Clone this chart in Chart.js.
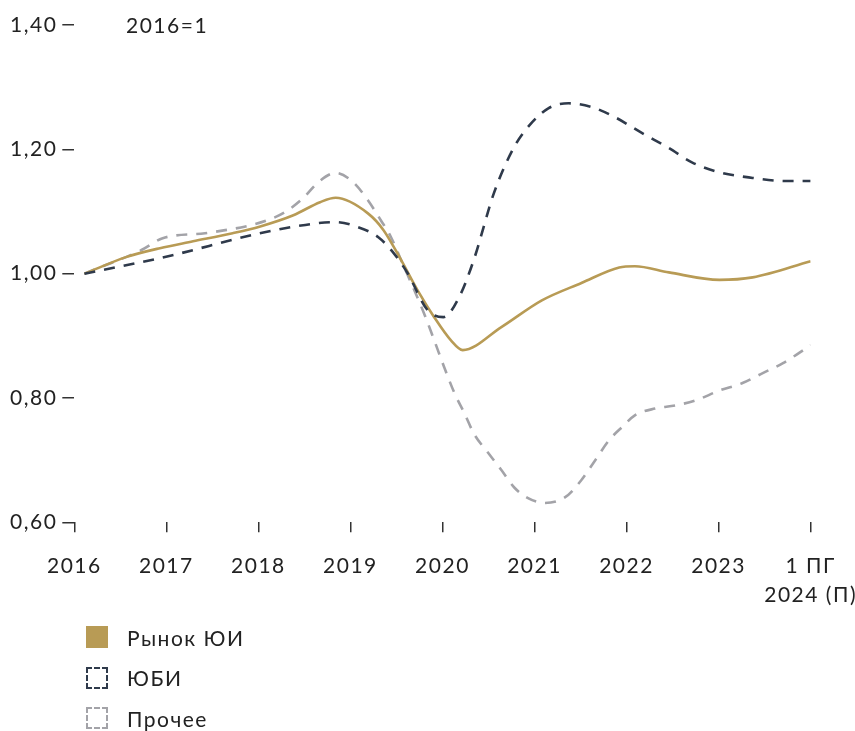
<!DOCTYPE html>
<html>
<head>
<meta charset="utf-8">
<script src="https://cdn.jsdelivr.net/npm/chart.js@4/dist/chart.umd.min.js"></script>
<style>
  body { margin: 0; background: #fff; font-family: 'Lato', sans-serif; color: #222; overflow: hidden; }
  #wrap { position: relative; width: 855px; height: 731px; overflow: hidden; }
  #box { position: absolute; left: 0; top: 0; width: 877px; height: 629px; }
  #note { position: absolute; left: 126px; top: 12px; font-size: 21px; letter-spacing: 1.5px; }
  #legend { position: absolute; left: 86px; top: 626px; }
  .row { display: flex; align-items: center; height: 22px; margin-bottom: 18.5px; font-size: 21px; letter-spacing: 1.5px; }
  .sw { width: 22px; height: 22px; box-sizing: border-box; margin-right: 19px; }
</style>
</head>
<body>
<div id="wrap">
  <div id="box"><canvas id="chart"></canvas></div>
  <div id="note">2016=1</div>
  <div id="legend"></div>
</div>
<script>
  // x positions: 0 = 2016, 8 = 1 ПГ 2024
  const xLabels = ['2016', '2017', '2018', '2019', '2020', '2021', '2022', '2023', ['1 ПГ', '2024 (П)']];

  const marketX = [0.11, 0.57, 0.93, 1.29, 1.72, 2.02, 2.38, 2.67, 2.84, 3.19, 3.36, 3.55, 3.73, 3.91, 4.09, 4.22, 4.64, 5.08, 5.51, 5.92, 6.09, 6.46, 7.01, 7.37, 8.0];
  const marketY = [1.000, 1.027, 1.041, 1.052, 1.065, 1.076, 1.094, 1.115, 1.122, 1.097, 1.070, 1.022, 0.973, 0.930, 0.893, 0.877, 0.914, 0.957, 0.985, 1.010, 1.012, 1.002, 0.990, 0.994, 1.020];

  const ubiX = [0.11, 1.02, 1.93, 2.40, 2.84, 3.08, 3.30, 3.47, 3.62, 3.84, 4.01, 4.18, 4.34, 4.56, 4.78, 4.93, 5.15, 5.37, 5.62, 5.87, 6.17, 6.46, 6.71, 7.01, 7.37, 7.73, 8.0];
  const ubiY = [1.000, 1.028, 1.062, 1.076, 1.083, 1.075, 1.059, 1.033, 1.001, 0.941, 0.930, 0.962, 1.022, 1.130, 1.204, 1.236, 1.266, 1.274, 1.268, 1.252, 1.226, 1.202, 1.179, 1.163, 1.154, 1.149, 1.149];

  const otherX = [0.11, 0.73, 0.96, 1.42, 1.64, 1.86, 2.10, 2.29, 2.49, 2.65, 2.84, 3.03, 3.19, 3.33, 3.44, 3.55, 3.80, 3.91, 4.02, 4.13, 4.24, 4.34, 4.50, 4.64, 4.78, 4.93, 5.11, 5.33, 5.51, 5.66, 5.81, 5.95, 6.09, 6.31, 6.53, 6.75, 7.01, 7.26, 7.48, 7.70, 8.0];
  const otherY = [1.000, 1.038, 1.057, 1.065, 1.070, 1.076, 1.086, 1.099, 1.122, 1.147, 1.162, 1.147, 1.118, 1.086, 1.059, 1.022, 0.936, 0.893, 0.849, 0.808, 0.775, 0.743, 0.711, 0.684, 0.656, 0.639, 0.631, 0.640, 0.668, 0.700, 0.732, 0.753, 0.772, 0.783, 0.788, 0.796, 0.812, 0.824, 0.840, 0.856, 0.885];

  const seriesNames = ['Рынок ЮИ', 'ЮБИ', 'Прочее'];
  const colors = { gold: '#b89b55', navy: '#2f3a4b', gray: '#a3a3a8', text: '#222' };

  const pts = (xs, ys) => xs.map((x, i) => ({ x, y: ys[i] }));

  const spacing = {
    id: 'spacing',
    beforeUpdate(c) { c.ctx.letterSpacing = '1.5px'; },
    beforeDraw(c) { c.ctx.letterSpacing = '1.5px'; }
  };

  Chart.defaults.font.family = 'Lato';
  Chart.defaults.font.size = 21;
  Chart.defaults.color = colors.text;

  new Chart(document.getElementById('chart'), {
    type: 'line',
    data: {
      datasets: [
        { label: seriesNames[0], data: pts(marketX, marketY), borderColor: colors.gold, borderWidth: 2.6, order: 2 },
        { label: seriesNames[1], data: pts(ubiX, ubiY), borderColor: colors.navy, borderWidth: 2.6, borderDash: [11, 9], order: 1 },
        { label: seriesNames[2], data: pts(otherX, otherY), borderColor: colors.gray, borderWidth: 2.6, borderDash: [11, 9], order: 3 }
      ]
    },
    options: {
      responsive: true,
      maintainAspectRatio: false,
      animation: false,
      layout: { padding: { left: 5, top: 25, right: 0, bottom: 0 } },
      elements: { point: { radius: 0 }, line: { cubicInterpolationMode: 'monotone' } },
      plugins: { legend: { display: false }, tooltip: { enabled: false } },
      scales: {
        x: {
          type: 'linear',
          min: 0,
          max: 8,
          border: { display: false },
          grid: { drawOnChartArea: false, drawTicks: true, tickLength: 10, color: '#333', lineWidth: 1.5 },
          ticks: {
            stepSize: 1,
            autoSkip: false,
            maxRotation: 0,
            padding: 20,
            font: { size: 21, lineHeight: 1.35 },
            callback: v => xLabels[v]
          }
        },
        y: {
          min: 0.6,
          max: 1.4,
          border: { display: false },
          grid: { drawOnChartArea: false, drawTicks: true, tickLength: 12, color: '#333', lineWidth: 1.5 },
          ticks: {
            stepSize: 0.2,
            padding: 5,
            callback: v => v.toFixed(2).replace('.', ',')
          }
        }
      }
    },
    plugins: [spacing]
  });

  // legend
  const legend = document.getElementById('legend');
  const swatchStyles = [
    `background:${colors.gold};`,
    `border:2.5px dashed ${colors.navy};`,
    `border:2.5px dashed ${colors.gray};`
  ];
  seriesNames.forEach((name, i) => {
    const row = document.createElement('div');
    row.className = 'row';
    row.innerHTML = `<div class="sw" style="${swatchStyles[i]}"></div><span>${name}</span>`;
    legend.appendChild(row);
  });
</script>
</body>
</html>
